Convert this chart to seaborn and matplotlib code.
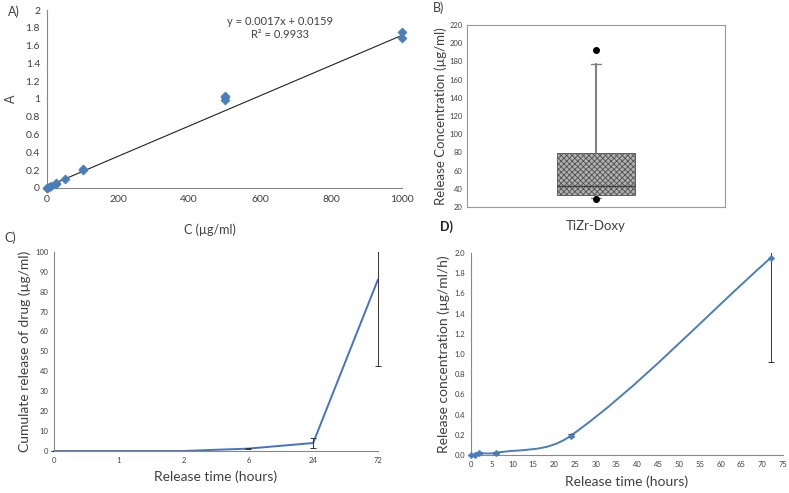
import matplotlib
matplotlib.use('Agg')
import matplotlib.pyplot as plt
from matplotlib.path import Path
from matplotlib.patches import PathPatch, Rectangle
import seaborn as sns
import pandas as pd
import numpy as np

sns.set_style('white')
plt.rcParams['font.family'] = ['Lato', 'DejaVu Sans']
plt.rcParams['hatch.color'] = '#505050'
plt.rcParams['hatch.linewidth'] = 0.6

# A) calibration data
a_conc = [0, 0, 5, 10, 25, 25, 50, 100, 100, 500, 500, 500, 1000, 1000]
a_abs = [0.0, 0.005, 0.01, 0.02, 0.045, 0.06, 0.10, 0.20, 0.21, 0.99, 1.02, 1.03, 1.75, 1.68]
a_slope = 0.0017
a_icpt = 0.0159
a_r2 = 0.9933

# B) box stats
b_label = 'TiZr-Doxy'
b_q1, b_med, b_q3 = 33, 43, 79
b_lo, b_hi = 30, 177
b_fliers = [193, 29]

# C) cumulative release
c_times = ['0', '1', '2', '6', '24', '72']
c_vals = [0, 0, 0, 1.2, 4.0, 86.0]
c_err = [0, 0, 0, 0.4, 2.3, 43.5]

# D) release concentration
d_times = [0, 1, 2, 6, 24, 72]
d_vals = [0.0, 0.003, 0.015, 0.02, 0.19, 1.95]
d_err = [0.0, 0.005, 0.01, 0.01, 0.015, 1.03]

blue = '#4a7ebb'
tcol = '#404040'

fig = plt.figure(figsize=(7.89, 4.93), dpi=100)

def smooth_path(xs, ys):
    # excel-like smoothed line, tangent scaled by segment length
    pts = np.column_stack([xs, ys]).astype(float)
    verts = [pts[0]]
    codes = [Path.MOVETO]
    n = len(pts)
    for i in range(n - 1):
        p0 = pts[i - 1] if i > 0 else pts[i]
        p1 = pts[i]
        p2 = pts[i + 1]
        p3 = pts[i + 2] if i + 2 < n else pts[i + 1]
        seg = np.hypot(*(p2 - p1))
        t1 = (p2 - p0) / np.hypot(*(p2 - p0))
        t2 = (p3 - p1) / np.hypot(*(p3 - p1))
        verts += [p1 + t1 * seg / 3.0, p2 - t2 * seg / 3.0, p2]
        codes += [Path.CURVE4] * 3
    return Path(verts, codes)

def loose_clip(eb, ax):
    # clip error bars to the axes height, but let them sit on the x edge
    r = Rectangle((-0.03, 0), 1.06, 1.0, transform=ax.transAxes, visible=False)
    ax.add_patch(r)
    for art in list(eb.lines[1]) + list(eb.lines[2]):
        art.set_clip_path(r)

# ---------------- A
axA = fig.add_axes([0.0596, 0.6187, 0.4499, 0.361])
df_a = pd.DataFrame({'C': a_conc, 'A': a_abs})
fx = np.array([0, 1000])
sns.lineplot(x=fx, y=a_slope * fx + a_icpt, ax=axA, color='#222222', lw=0.8)
sns.scatterplot(x='C', y='A', data=df_a, ax=axA, marker='D', s=22, color=blue,
                edgecolor=blue, clip_on=False, zorder=3)
axA.set_xlim(0, 1000)
axA.set_ylim(0, 2)
axA.set_xticks(np.arange(0, 1001, 200))
axA.set_yticks(np.arange(0, 2.01, 0.2))
axA.set_yticklabels(['0', '0.2', '0.4', '0.6', '0.8', '1', '1.2', '1.4', '1.6', '1.8', '2'])
axA.tick_params(labelsize=7.5, colors=tcol, length=0, pad=5)
for s in ['top', 'right']:
    axA.spines[s].set_visible(False)
for s in ['left', 'bottom']:
    axA.spines[s].set_color('#888888')
    axA.spines[s].set_linewidth(0.8)
axA.set_xlabel('C (µg/ml)', fontsize=9, color=tcol)
axA.set_ylabel('A', fontsize=9, color=tcol)
axA.xaxis.set_label_coords(0.46, -0.2)
axA.yaxis.set_label_coords(-0.085, 0.5)
axA.text(0.656, 0.965, 'y = {:.4f}x + {:.4f}\nR² = {:.4f}'.format(a_slope, a_icpt, a_r2),
         transform=axA.transAxes, ha='center', va='top', fontsize=8, color=tcol,
         linespacing=1.25)

# ---------------- B
axB = fig.add_axes([0.5919, 0.5801, 0.327, 0.3692])
stats = [{'med': b_med, 'q1': b_q1, 'q3': b_q3, 'whislo': b_lo, 'whishi': b_hi,
          'fliers': b_fliers, 'label': b_label}]
bp = axB.bxp(stats, positions=[1], widths=0.3, patch_artist=True,
             boxprops=dict(facecolor='#b0b0b0', edgecolor='#505050', hatch='xxxxxx', lw=0.6),
             medianprops=dict(color='#404040', lw=1.0),
             whiskerprops=dict(color='#808080', lw=1.5),
             capprops=dict(color='#808080', lw=1.0),
             flierprops=dict(marker='o', markerfacecolor='black', markeredgecolor='black', markersize=4))
for c in bp['caps']:
    mid = np.mean(c.get_xdata())
    c.set_xdata([mid - 0.02, mid + 0.02])
axB.set_xlim(0.5, 1.5)
axB.set_ylim(20, 220)
axB.set_yticks(np.arange(20, 221, 20))
axB.tick_params(axis='y', labelsize=5.5, colors=tcol, length=0, pad=3)
axB.tick_params(axis='x', labelsize=9.5, colors=tcol, length=0, pad=9)
for s in axB.spines.values():
    s.set_color('#999999')
    s.set_linewidth(0.8)
axB.set_ylabel('Release Concentration (µg/ml)', fontsize=9.5, color=tcol, labelpad=2)

# ---------------- C
axC = fig.add_axes([0.0684, 0.0852, 0.4106, 0.4042])
pos = np.arange(len(c_times))
sns.lineplot(x=pos, y=c_vals, ax=axC, color='#4472c4', lw=1.4, clip_on=False)
eb = axC.errorbar(pos, c_vals, yerr=c_err, fmt='none', ecolor='#333333', elinewidth=0.7,
                  capsize=2, capthick=0.7)
loose_clip(eb, axC)
axC.set_xlim(0, len(c_times) - 1)
axC.set_ylim(0, 100)
axC.set_xticks(pos)
axC.set_xticklabels(c_times)
axC.set_yticks(np.arange(0, 101, 10))
axC.tick_params(labelsize=5.5, colors=tcol, length=2, width=0.6, pad=2)
for s in ['top', 'right']:
    axC.spines[s].set_visible(False)
for s in ['left', 'bottom']:
    axC.spines[s].set_color('#888888')
    axC.spines[s].set_linewidth(0.8)
axC.set_xlabel('Release time (hours)', fontsize=10, color=tcol, labelpad=5)
axC.set_ylabel('Cumulate release of drug (µg/ml)', fontsize=10, color=tcol, labelpad=3)

# ---------------- D
axD = fig.add_axes([0.5966, 0.0771, 0.3958, 0.4097])
axD.add_patch(PathPatch(smooth_path(d_times, d_vals), facecolor='none', edgecolor=blue, lw=1.4))
sns.scatterplot(x=d_times, y=d_vals, ax=axD, marker='D', s=12, color=blue, edgecolor=blue,
                clip_on=False, zorder=3)
ebd = axD.errorbar(d_times, d_vals, yerr=d_err, fmt='none', ecolor='#333333', elinewidth=0.7,
                   capsize=2, capthick=0.7)
loose_clip(ebd, axD)
axD.set_xlim(0, 75)
axD.set_ylim(0, 2.0)
axD.set_xticks(np.arange(0, 76, 5))
axD.set_yticks(np.arange(0, 2.01, 0.2))
axD.set_yticklabels(['{:.1f}'.format(v) for v in np.arange(0, 2.01, 0.2)])
axD.tick_params(labelsize=5.5, colors=tcol, length=2, width=0.6, pad=2)
for s in ['top', 'right']:
    axD.spines[s].set_visible(False)
for s in ['left', 'bottom']:
    axD.spines[s].set_color('#888888')
    axD.spines[s].set_linewidth(0.8)
axD.set_xlabel('Release time (hours)', fontsize=10, color=tcol, labelpad=6)
axD.set_ylabel('Release concentration (µg/ml/h)', fontsize=10, color=tcol, labelpad=3)

# panel letters
fig.text(8 / 789, 1 - 12 / 493, 'A)', fontsize=9, color=tcol, va='center')
fig.text(433 / 789, 1 - 8 / 493, 'B)', fontsize=9, color=tcol, va='center')
fig.text(4 / 789, 1 - 238 / 493, 'C)', fontsize=9, color=tcol, va='center')
fig.text(440 / 789, 1 - 227 / 493, 'D)', fontsize=9, color='#222222', va='center', fontweight='bold')

fig.savefig('out.png', dpi=100)
